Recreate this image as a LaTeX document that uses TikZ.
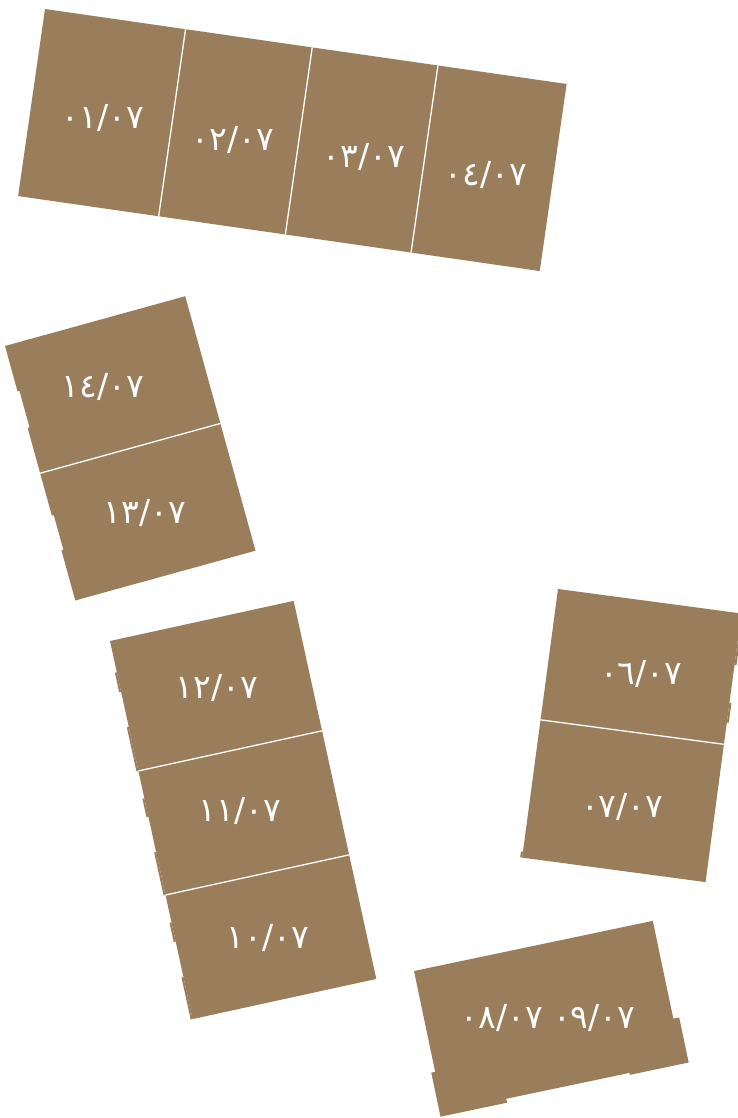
\documentclass[tikz,border=0pt]{standalone}
\usepackage{fontspec}
\newfontfamily\digitfont{DejaVu Sans}
\TeXXeTstate=1
\definecolor{plotbrown}{RGB}{154, 126, 91}

\begin{document}
\begin{tikzpicture}[x=1pt, y=-1pt,
  unit/.style={fill=plotbrown},
  wall/.style={draw=white, line width=1.3pt},
  lbl/.style={text=white, inner sep=0pt, font=\digitfont\fontsize{33}{40}\selectfont}
]
  \useasboundingbox (0,0) rectangle (738,1118);
  \clip (0,0) rectangle (738,1118);

  % top row, four units
  \begin{scope}[shift={(45,9)}, rotate=-8.18]
    \fill[unit] (0,0) rectangle (527,189);
    \foreach \u in {142,270,397} \draw[wall] (\u,0) -- (\u,189);
  \end{scope}

  % units 13-14
  \begin{scope}[shift={(5,346)}, rotate=15.44]
    \fill[unit] (0,0) -- (187,0) -- (187,264) -- (0,264) -- (0,212) -- (2,212) -- (2,176) -- (0,176)
      -- (0,85) -- (2,85) -- (2,47) -- (0,47) -- cycle;
    \draw[wall] (0,132) -- (187,132);
  \end{scope}

  % units 10-12
  \begin{scope}[shift={(110,641)}, rotate=12.33]
    \fill[unit] (0,0) rectangle (188,387);
    \foreach \a/\b in {32/52, 88/133, 161/180, 216/260, 288/308, 344/387}
      \fill[unit] (-2,\a) rectangle (0,\b);
    \draw[wall] (0,133) -- (188,133);
    \draw[wall] (0,260) -- (188,260);
  \end{scope}

  % units 06-07
  \begin{scope}[shift={(558,589)}, rotate=-7.6]
    \fill[unit] (0,0) rectangle (185,271);
    \fill[unit] (185,0) rectangle (187,52);
    \fill[unit] (185,90) rectangle (187,110);
    \fill[unit] (-2,265) rectangle (0,271);
    \draw[wall] (0,132) -- (185,132);
  \end{scope}

  % units 08-09
  \begin{scope}[shift={(414,971)}, rotate=11.86]
    \fill[unit] (0,0) -- (244,0) -- (244,100) -- (250,100) -- (250,146) -- (190,146) -- (190,144)
      -- (64,144) -- (64,148) -- (-4,148) -- (-4,103) -- (0,103) -- cycle;
  \end{scope}

  \node[lbl] (t01) at (103,118) {٠١/٠٧};
  \node[lbl] (t02) at (233,140) {٠٢/٠٧};
  \node[lbl] (t03) at (364,157) {٠٣/٠٧};
  \node[lbl] (t04) at (486,175) {٠٤/٠٧};
  \node[lbl] (t14) at (103,387) {١٤/٠٧};
  \node[lbl] (t13) at (145,513) {١٣/٠٧};
  \node[lbl] (t12) at (217,688) {١٢/٠٧};
  \node[lbl] (t11) at (240,811) {١١/٠٧};
  \node[lbl] (t10) at (268,938) {١٠/٠٧};
  \node[lbl] (t06) at (641,674) {٠٦/٠٧};
  \node[lbl] (t07) at (622,807) {٠٧/٠٧};
  \node[lbl] (t0809) at (548,1018) {\beginR\beginL ٠٩/٠٧\endL{} \beginL ٠٨/٠٧\endL\endR};
\end{tikzpicture}
\end{document}
